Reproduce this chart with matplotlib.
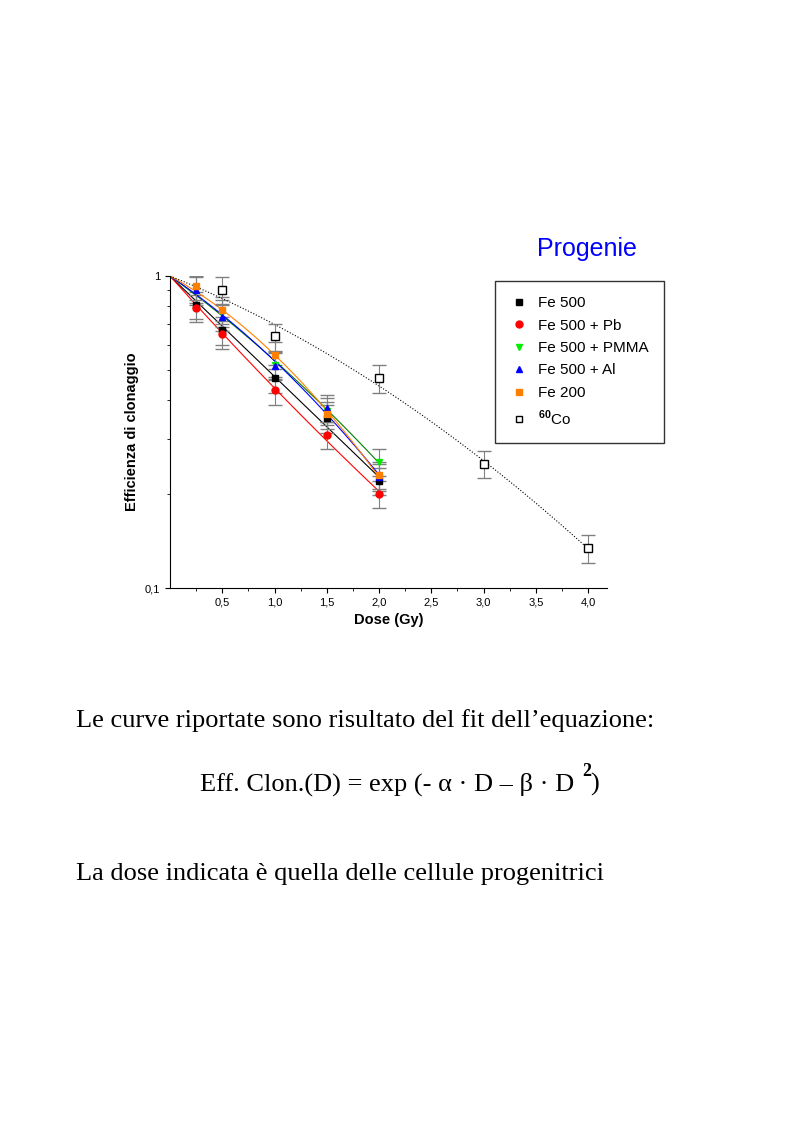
import numpy as np
import matplotlib
matplotlib.use("Agg")
import matplotlib.pyplot as plt
from matplotlib.ticker import NullFormatter
from matplotlib.lines import Line2D

plt.rcParams['font.family'] = ['Liberation Sans', 'DejaVu Sans']
plt.rcParams['mathtext.fontset'] = 'custom'
plt.rcParams['mathtext.rm'] = 'Liberation Sans'
plt.rcParams['mathtext.bf'] = 'Liberation Sans:bold'

dose = [0.25, 0.5, 1.0, 1.5, 2.0]
fe500 = [0.81, 0.67, 0.47, 0.35, 0.22]
fe500_pb = [0.79, 0.65, 0.43, 0.31, 0.20]
fe500_pmma = [0.91, 0.76, 0.52, 0.37, 0.254]
fe500_al = [0.90, 0.74, 0.515, 0.377, 0.227]
fe200 = [0.93, 0.78, 0.56, 0.36, 0.23]
co_dose = [0.5, 1.0, 2.0, 3.0, 4.0]
co60 = [0.90, 0.64, 0.47, 0.25, 0.134]
err_frac = 0.1

fig = plt.figure(figsize=(7.93, 11.23), dpi=100)
ax = fig.add_axes([0.2144, 0.4764, 0.551, 0.2778])
ax.set_yscale('log')
ax.set_xlim(0, 4.18)
ax.set_ylim(0.1, 1)

def lqfit(x, y):
    x = np.array(x); y = -np.log(np.array(y))
    A = np.vstack([x, x**2]).T
    a, b = np.linalg.lstsq(A, y, rcond=None)[0]
    return a, b

series = [
    ("Fe 500", dose, fe500, 'black', 's', 'black'),
    ("Fe 500 + Pb", dose, fe500_pb, 'red', 'o', 'red'),
    ("Fe 500 + PMMA", dose, fe500_pmma, '#00ee00', 'v', 'green'),
    ("Fe 500 + Al", dose, fe500_al, 'blue', '^', 'blue'),
    ("Fe 200", dose, fe200, '#ff8000', 's', '#ff8000'),
]
handles = []
for lab, x, y, c, m, lc in series:
    a, b = lqfit(x, y)
    xx = np.linspace(0, max(x), 100)
    ax.plot(xx, np.exp(-a*xx - b*xx**2), color=lc, lw=0.8)
    ax.errorbar(x, y, yerr=np.array(y)*err_frac, fmt=m, color=c, ms=5,
                ecolor='gray', elinewidth=0.8, capsize=5)
    handles.append(Line2D([], [], ls='none', marker=m, color=c, ms=5, label=lab))
a, b = lqfit(co_dose, co60)
xx = np.linspace(0, 4, 100)
ax.plot(xx, np.exp(-a*xx - b*xx**2), color='black', lw=0.8, ls=':')
ax.errorbar(co_dose, co60, yerr=np.array(co60)*err_frac, fmt='s', mfc='white',
            mec='black', ms=5.5, ecolor='gray', elinewidth=0.8, capsize=5)
handles.append(Line2D([], [], ls='none', marker='s', mfc='white', mec='black', ms=5,
                      label=r'$^{\mathbf{60}}$Co'))

xt = [0.5, 1.0, 1.5, 2.0, 2.5, 3.0, 3.5, 4.0]
ax.set_xticks(xt)
ax.set_xticklabels([f"{v:.1f}".replace('.', ',') for v in xt], fontsize=8)
ax.set_xticks(np.arange(0.25, 4.2, 0.25), minor=True)
ax.set_yticks([0.1, 1])
ax.set_yticklabels(['0,1', '1'], fontsize=8)
ax.yaxis.set_minor_formatter(NullFormatter())
for s in ['top', 'right']:
    ax.spines[s].set_visible(False)
ax.set_xlabel('Dose (Gy)', fontsize=10.5, fontweight='bold')
ax.set_ylabel('Efficienza di clonaggio', fontsize=10.5, fontweight='bold')

fig.legend(handles=handles, loc='upper left', bbox_to_anchor=(495/793, 1-281/1123),
           borderaxespad=0, fontsize=11, frameon=True, fancybox=False,
           edgecolor='black', borderpad=1.0, labelspacing=0.55, handletextpad=0.6,
           handlelength=1.2)
fig.text(587/793, 1-249/1123, 'Progenie', color='blue', fontsize=18, ha='center', va='center')

serif = 'Liberation Serif'
fig.text(76/793, 1-721/1123, 'Le curve riportate sono risultato del fit dell\u2019equazione:',
         family=serif, fontsize=19, va='center')
fig.text(397/793, 1-784/1123, 'Eff. Clon.(D) = exp (- \u03b1 \u00b7 D \u2013 \u03b2 \u00b7 D',
         family=serif, fontsize=19, va='center', ha='right', x=593/793) if False else None
t = fig.text(200/793, 1-784/1123, 'Eff. Clon.(D) = exp (- \u03b1 \u00b7 D \u2013 \u03b2 \u00b7 D',
             family=serif, fontsize=19, va='center')
fig.text(582/793, 1-772/1123, '2', family=serif, fontsize=13, fontweight='bold', va='center')
fig.text(590/793, 1-784/1123, ')', family=serif, fontsize=19, va='center')
fig.text(76/793, 1-874/1123, 'La dose indicata è quella delle cellule progenitrici',
         family=serif, fontsize=19, va='center')
fig.savefig('out.png', dpi=100)
